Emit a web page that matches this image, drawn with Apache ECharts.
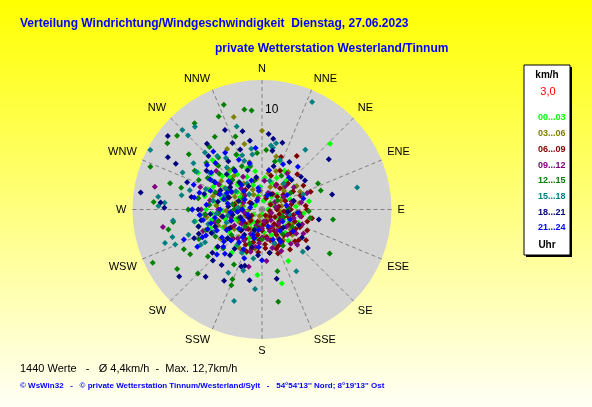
<!DOCTYPE html>
<html>
<head>
<meta charset="utf-8">
<script src="https://cdn.jsdelivr.net/npm/echarts@6/dist/echarts.min.js"></script>
<style>
  html, body { margin: 0; padding: 0; }
  #chart { width: 592px; height: 407px; }
</style>
</head>
<body>
<div id="chart"></div>
<script>
// direction labels, clockwise from north
const directions = ["N", "NNE", "NE", "ENE", "E", "ESE", "SE", "SSE",
  "S", "SSW", "SW", "WSW", "W", "WNW", "NW", "NNW"];

// time slots (Uhr)
const slots = ["00...03", "03...06", "06...09", "09...12",
  "12...15", "15...18", "18...21", "21...24"];

// each point: [speed km/h, direction deg]
const h00 = [[1.2,20],[2.1,45],[3.0,70],[2.5,95],[1.8,120],[3.3,135],[2.7,160],[1.5,185],
  [2.2,210],[3.1,230],[3.8,255],[2.6,270],[4.2,285],[3.4,300],[2.0,320],[1.4,345],[0.8,300],
  [0.6,90],[3.9,110],[4.1,140],[2.9,190],[4.5,215],[5.0,265],[5.4,295],[4.6,315],[3.6,335],
  [2.3,355],[3.5,25],[4.0,55],[1.0,240],[1.9,280],[2.8,250],[3.7,200],[4.4,170],[5.8,153],
  [6.6,184],[7.7,165],[9.5,46],[4.8,80],[3.2,5],[5.2,310],[4.9,280],[5.5,250],[6.0,230],
  [3.0,150],[2.4,115],[0.9,10],[1.6,35],[2.4,60],[1.3,75],[3.4,85],[2.0,100],[2.9,125],
  [3.6,150],[1.2,165],[2.3,175],[3.2,205],[1.8,220],[4.0,235],[2.7,245],[5.2,258],[3.9,268],
  [4.6,275],[2.3,290],[5.9,283],[3.0,305],[4.3,325],[2.6,340],[3.9,350],[1.7,260],[0.5,180],
  [2.1,140],[3.3,195],[4.8,300],[5.6,270],[3.6,240],[5.0,320],[6.2,305],[4.4,340],[7.0,315],
  [5.7,290],[6.8,260],[4.3,245],[3.2,260],[1.1,50],[2.0,150],[4.2,95],[3.0,115],[1.5,215],
  [2.5,300],[3.5,315],[6.0,335],[4.6,200],[5.3,215],[7.4,300],[2.8,20],[4.5,30],[5.2,20],
  [3.8,40]];
const h03 = [[1.0,60],[2.0,80],[2.8,100],[3.5,125],[2.2,150],[1.6,175],[2.9,200],[3.6,220],
  [4.1,245],[3.0,260],[4.6,275],[3.8,290],[2.5,310],[1.7,330],[3.1,350],[2.4,20],[3.3,40],
  [4.2,65],[1.3,270],[0.7,200],[2.6,240],[3.9,305],[5.1,285],[4.4,320],[7.9,0],[9.7,343],
  [4.2,56],[3.7,145],[4.0,190],[2.0,225],[5.6,262],[6.1,300],[3.4,115],[1.9,355],[2.7,30],
  [4.8,230],[3.2,165],[1.4,15],[2.9,50],[1.8,95],[3.1,105],[2.4,135],[3.9,160],[1.2,190],
  [2.3,210],[3.4,235],[4.7,250],[2.0,280],[5.4,275],[3.0,295],[4.3,300],[2.2,335],[3.7,10],
  [0.9,120],[2.7,175],[4.5,210],[3.6,268],[1.5,230],[5.0,305],[3.2,325],[2.6,85],[4.0,130],
  [5.3,320],[6.4,315],[7.0,330],[4.9,345],[6.5,280],[5.8,250],[4.4,265],[3.0,45],[2.1,65],
  [3.8,80],[1.1,150],[2.5,190],[3.3,150],[1.8,250],[2.7,285],[6.8,345],[4.1,20],[5.1,235],
  [1.0,330],[3.5,95],[4.6,35],[5.5,15],[3.6,60]];
const h06 = [[1.5,90],[2.3,110],[3.1,120],[3.8,148],[2.7,135],[4.2,160],[3.5,175],[2.0,160],
  [1.1,130],[4.6,134],[4.0,100],[3.3,75],[2.6,55],[1.9,35],[6.4,33],[4.8,60],[3.0,195],
  [2.4,215],[3.6,240],[4.5,255],[2.8,280],[1.6,250],[3.9,205],[4.3,185],[2.1,180],[1.3,200],
  [0.7,150],[3.4,140],[2.9,90],[5.0,115],[4.9,145],[3.2,165],[1.8,105],[2.5,70],[3.7,45],
  [4.4,85],[5.4,125],[2.2,230],[3.1,265],[1.4,300],[2.6,320],[5.2,70],[3.0,225],[4.1,195],
  [1.0,60],[1.7,80],[2.1,125],[2.9,150],[3.6,160],[4.4,170],[1.5,175],[2.6,190],[3.4,210],
  [4.1,225],[1.9,140],[3.9,120],[4.7,105],[3.8,95],[2.2,95],[3.5,110],[2.8,170],[3.7,130],
  [4.0,155],[2.3,245],[3.3,250],[2.0,270],[3.5,290],[1.2,20],[2.8,40],[4.1,70],[1.6,225],
  [3.1,185],[4.5,200],[2.5,150],[0.8,100],[1.3,160],[1.8,190],[2.4,200],[1.2,240],[2.7,105],
  [3.2,100],[4.2,115],[4.8,130],[3.9,175],[2.2,135],[1.5,120],[3.0,80],[2.0,50],[4.5,90],
  [3.6,60],[2.9,30],[5.1,100],[4.7,160],[3.4,195],[4.3,25],[5.0,45],[5.6,20],[4.0,10],
  [3.5,15]];
const h09 = [[1.0,110],[2.2,130],[3.4,150],[4.8,120],[4.0,165],[2.8,180],[1.7,200],[3.6,210],
  [5.9,193],[2.5,235],[3.2,255],[4.4,270],[11.0,282],[10.1,260],[2.0,290],[3.0,315],[1.5,60],
  [2.6,85],[3.9,100],[4.5,140],[3.1,75],[2.3,160],[5.2,175],[4.2,225],[5.5,245],[1.2,340],
  [2.8,30],[6.1,270],[3.5,300],[4.7,290],[3.8,190],[1.4,140],[2.6,145],[3.6,135],[4.2,125],
  [2.1,115],[3.3,105],[4.6,155],[3.0,170],[1.9,180],[4.4,195],[2.7,205],[3.8,220],[1.6,240],
  [4.9,255],[2.4,265],[5.3,280],[3.6,290],[2.2,310],[4.1,310],[1.8,20],[3.3,45],[2.5,60],
  [4.0,80],[5.7,265],[6.3,250],[1.2,170],[2.0,150],[3.0,125],[3.9,150],[4.3,110],[2.6,100],
  [1.4,80],[5.0,135],[3.4,185],[4.6,205],[2.5,220],[3.2,240],[4.1,260],[5.0,300],[6.0,310],
  [6.6,290],[5.8,230],[2.9,5],[3.8,330],[1.8,260],[4.4,35],[3.9,55],[4.8,70]];
const h12 = [[11.2,340],[10.2,350],[10.0,354],[10.3,335],[12.0,291],[10.9,274],[12.2,244],
  [10.4,235],[7.2,98],[8.1,123],[6.4,166],[9.4,170],[4.7,92],[6.2,65],[6.2,72],[6.0,4],
  [11.3,311],[11.6,305],[9.6,286],[8.7,327],[9.2,307],[11.0,322],[9.1,225],[8.8,243],
  [8.5,238],[7.2,229],[6.2,207],[8.2,202],[7.6,203],[9.6,258],[9.0,262],[3.0,280],[4.0,300],
  [5.0,290],[2.5,250],[3.6,320],[4.4,265],[5.6,310],[6.5,280],[7.0,295],[2.0,200],[3.2,140],
  [1.8,60],[4.8,335],[6.8,320],[7.8,300],[5.4,240],[2.8,270],[3.8,285],[4.6,255],[5.8,265],
  [2.2,300],[4.2,315],[5.0,325],[3.0,345],[1.5,20],[2.6,90],[3.5,120],[4.2,150],[3.0,180],
  [2.4,225],[6.3,300],[5.3,275],[6.0,250],[4.0,230],[7.3,310],[8.2,320],[6.1,335],[7.8,340],
  [8.4,285],[7.4,270],[6.6,255],[5.5,225],[7.0,245],[3.6,200],[4.5,345],[5.7,355],[2.2,110],
  [3.3,60],[4.9,100],[6.2,315],[5.0,15],[3.9,30]];
const h15 = [[11.9,25],[12.7,298],[11.3,315],[10.7,321],[8.7,343],[6.3,10],[9.8,77],[9.6,197],
  [8.0,185],[5.9,136],[7.1,151],[7.4,36],[10.5,315],[10.5,277],[9.8,274],[8.3,304],[10.4,272],
  [9.0,263],[9.4,253],[10.3,251],[9.4,248],[7.8,251],[7.2,208],[6.4,197],[6.5,8],[6.8,12],
  [5.0,280],[6.0,290],[7.0,270],[4.2,300],[5.5,320],[3.5,260],[7.5,285],[8.8,295],[6.6,240],
  [3.0,330],[4.5,230],[5.8,340],[2.4,275],[3.8,250],[4.6,265],[5.6,255],[4.0,290],[6.4,305],
  [3.2,305],[2.0,320],[4.7,345],[5.6,350],[3.0,15],[2.8,100],[3.6,160],[2.5,200],[4.3,215],
  [6.2,265],[7.0,320],[8.1,315],[6.3,325],[5.8,300],[7.6,300],[8.2,280],[6.9,260],[5.4,245],
  [7.1,240],[4.8,205],[5.0,190],[3.4,40],[4.4,70],[5.2,340],[6.2,350],[5.3,20]];
const h18 = [[10.8,299],[12.3,278],[8.4,53],[7.2,78],[7.2,9],[10.7,231],[8.8,220],[8.1,208],
  [7.1,168],[7.2,190],[5.1,50],[5.2,56],[7.0,17],[7.6,5],[12.0,308],[9.8,298],[10.2,274],
  [8.8,335],[7.3,336],[8.1,346],[9.8,271],[6.9,216],[7.1,224],[6.6,229],[7.4,247],[6.8,249],
  [5.9,197],[4.0,113],[3.0,260],[4.5,280],[5.5,300],[3.8,240],[2.5,290],[4.8,215],[5.8,230],
  [6.2,260],[3.5,320],[2.2,200],[4.2,340],[5.0,250],[6.0,285],[2.8,130],[3.3,75],[1.5,240],
  [2.0,270],[3.4,275],[4.0,260],[5.2,265],[4.6,295],[3.9,305],[5.0,315],[2.7,330],[3.3,350],
  [1.8,30],[2.6,95],[3.5,150],[4.4,170],[3.9,195],[4.5,230],[5.6,245],[6.4,270],[2.9,225],
  [1.2,300],[4.8,325],[6.8,305],[7.6,315],[8.6,320],[5.9,325],[6.4,340],[7.0,350],[8.0,290],
  [7.2,280],[6.6,255],[5.6,215],[6.1,200],[4.6,185],[3.1,215],[2.3,250],[3.6,290],[4.2,310],
  [5.8,100],[4.9,125],[6.0,130],[4.2,45],[5.5,30],[4.5,15],[6.0,10]];
const h21 = [[7.5,240],[8.4,249],[6.6,245],[5.4,226],[6.3,306],[7.1,309],[6.8,327],[5.4,300],
  [6.2,354],[1.5,250],[2.5,265],[3.5,280],[4.5,290],[3.0,230],[4.0,215],[2.0,300],[3.2,320],
  [4.8,260],[5.6,275],[2.7,200],[3.8,185],[1.8,160],[2.4,120],[3.6,95],[2.9,60],[4.2,40],
  [5.0,245],[6.0,260],[4.4,310],[3.1,340],[5.2,200],[6.5,285],[1.0,330],[3.7,150],[4.9,235],
  [2.2,350],[7.0,270],[5.8,220],[1.2,280],[2.2,240],[3.3,250],[4.2,270],[5.3,255],[3.9,295],
  [2.6,315],[4.7,325],[1.5,20],[2.5,80],[3.0,110],[2.8,140],[4.4,205],[3.4,215],[2.1,190],
  [5.5,290],[6.2,245],[4.1,240],[1.9,350],[3.6,300],[6.0,300],[6.6,315],[7.6,320],[5.5,335],
  [4.8,345],[7.3,290],[6.9,280],[6.3,265],[5.8,250],[5.0,230],[6.4,225],[4.4,225],[3.2,265],
  [2.0,270],[4.0,285],[3.0,195],[5.1,180],[3.2,160],[3.8,125],[4.3,75],[5.0,25],[4.0,10],
  [5.6,40]];

const slotData = [h00, h03, h06, h09, h12, h15, h18, h21];
const slotColors = ["#00FF00", "#808000", "#800000", "#800080",
  "#008000", "#008080", "#000080", "#0000FF"];

const infoLine = "1440 Werte   -   \u00D8 4,4km/h  -  Max. 12,7km/h";
const footLine = "\u00A9 WsWin32   -   \u00A9 private Wetterstation Tinnum/Westerland/Sylt   -   54\u00B054'13'' Nord; 8\u00B019'13'' Ost";

const chart = echarts.init(document.getElementById("chart"));

const option = {
  animation: false,
  backgroundColor: {
    type: "linear", x: 0, y: 0, x2: 0, y2: 1,
    colorStops: [
      { offset: 0, color: "#FFFF00" },
      { offset: 0.55, color: "#FFFF88" },
      { offset: 1, color: "#FFFFF6" },
    ],
  },
  title: [
    {
      text: "Verteilung Windrichtung/Windgeschwindigkeit  Dienstag, 27.06.2023",
      left: 20, top: 18, padding: 0,
      textStyle: { color: "#0000FF", fontSize: 12, fontWeight: "bold", fontFamily: "Arial" },
    },
    {
      text: "private Wetterstation Westerland/Tinnum",
      left: 215, top: 43, padding: 0,
      textStyle: { color: "#0000FF", fontSize: 12, fontWeight: "bold", fontFamily: "Arial" },
    },
  ],
  polar: { center: [262, 209.5], radius: 129.5 },
  angleAxis: {
    type: "value", min: 0, max: 360, interval: 22.5,
    startAngle: 90, clockwise: true,
    axisLine: { show: false },
    axisTick: { show: false },
    axisLabel: {
      margin: 6, color: "#000", fontSize: 11, fontFamily: "Arial",
      formatter: (v) => directions[Math.round(v / 22.5) % 16],
    },
    splitLine: { show: true, lineStyle: { color: "#808080", width: 1, type: [4, 3] } },
    splitArea: { show: false },
  },
  radiusAxis: {
    type: "value", min: 0, max: 13, interval: 5,
    axisLine: { show: false },
    axisTick: { show: false },
    axisLabel: {
      margin: -3, align: "left", color: "#000", fontSize: 12, fontFamily: "Arial",
      formatter: (v) => (v === 10 ? "10" : ""),
    },
    splitArea: { show: true, areaStyle: { color: ["#D3D3D3"] } },
    splitLine: {
      show: true,
      lineStyle: { color: ["#808080", "#808080", "#808080", "rgba(0,0,0,0)"], width: 1, type: [4, 3] },
    },
  },
  legend: {
    orient: "vertical", left: 533, top: 112, padding: 0,
    itemWidth: 0, itemHeight: 12, itemGap: 3.7,
    selectedMode: false,
    icon: "rect",
    textStyle: { fontSize: 9, fontWeight: "bold", fontFamily: "Arial" },
    data: slots.map((s, i) => ({ name: s, textStyle: { color: slotColors[i] } })),
  },
  graphic: [
    { type: "rect", shape: { x: 526, y: 67, width: 46, height: 190 }, style: { fill: "#000" } },
    { type: "rect", shape: { x: 524, y: 65, width: 46, height: 190 }, style: { fill: "#fff", stroke: "#000", lineWidth: 1 } },
    { type: "text", x: 547, y: 75, style: { text: "km/h", font: "bold 10px Arial", fill: "#000", align: "center", verticalAlign: "middle" } },
    { type: "text", x: 548, y: 92, style: { text: "3,0", font: "11px Arial", fill: "#FF0000", align: "center", verticalAlign: "middle" } },
    { type: "text", x: 547, y: 245, style: { text: "Uhr", font: "bold 10px Arial", fill: "#000", align: "center", verticalAlign: "middle" } },
    { type: "text", x: 20, y: 369, style: { text: infoLine, font: "11px Arial", fill: "#000", verticalAlign: "middle" } },
    { type: "text", x: 20, y: 386, style: { text: footLine, font: "bold 8px Arial", fill: "#0000FF", verticalAlign: "middle" } },
  ],
  series: slotData.map((d, i) => ({
    name: slots[i],
    type: "scatter",
    coordinateSystem: "polar",
    symbol: "diamond",
    symbolSize: 6,
    itemStyle: { color: slotColors[i], opacity: 1 },
    data: d,
  })),
};

chart.setOption(option);
</script>
</body>
</html>
